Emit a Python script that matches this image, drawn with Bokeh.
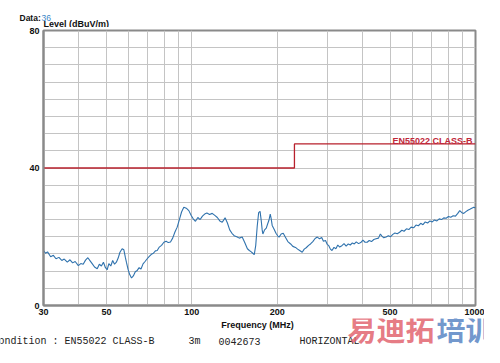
from bokeh.plotting import figure
from bokeh.models import Range1d, FixedTicker, Label
from bokeh.layouts import column
from bokeh.embed import file_html
from bokeh.resources import INLINE

# ---- data ----
freq_mhz = [30, 30.5, 31, 31.8, 32.5, 33.2, 34, 34.8, 35.5, 36.4, 37.2, 38, 38.8, 39.8,
            40.6, 41.4, 42.2, 43, 43.8, 44.6, 45.4, 46.4, 47.2, 48, 48.8, 49.6, 50.3, 51,
            51.8, 52.6, 53.4, 54.2, 55, 55.8, 56.8, 57.6, 58.3, 58.8, 59.6, 60.4, 61.3,
            62.2, 63.2, 64.2, 65.2, 66.2, 67.3, 68.4, 69.6, 70.8, 72, 73.2, 74.4, 75.5,
            76.8, 78.2, 79.7, 81.2, 82.6, 84.1, 85.6, 87.2, 88.8, 90.4, 92, 93.7, 95.6,
            97.6, 99.5, 101, 103, 105, 107, 109, 111, 113, 115.5, 118, 120.5, 123, 125.5,
            128, 131, 133.5, 136, 138.5, 141, 144, 147, 150.5, 153.5, 157, 159.5, 162,
            164, 166, 168, 170, 172, 174, 175.5, 177, 178, 180.5, 183, 185, 187, 189,
            190.5, 192, 195, 198, 201, 203, 206.5, 210, 214, 218, 223, 227, 232, 236,
            240, 245, 249, 253, 258, 262, 267, 272, 277, 282, 287, 291, 296, 300, 304,
            308, 312, 317, 322, 327, 332, 338, 344, 350, 356, 362, 368, 374, 380, 387,
            394, 401, 408, 415, 422, 430, 438, 446, 455, 462, 468, 475, 484, 493, 502,
            511, 520, 530, 540, 550, 560, 571, 582, 593, 605, 617, 629, 641, 653, 665,
            678, 691, 704, 717, 731, 745, 759, 773, 788, 803, 818, 834, 850, 866, 880,
            895, 909, 925, 940, 955, 970, 986, 1000]
level_dbuv = [16.0, 15.2, 15.6, 14.2, 14.6, 13.6, 14.0, 13.1, 13.5, 12.6, 13.3, 12.4, 12.8, 11.6,
              12.2, 12.0, 13.2, 13.9, 13.0, 12.1, 11.2, 10.7, 12.0, 11.5, 12.6, 11.0, 10.4, 12.2,
              11.5, 13.1, 12.0, 12.6, 13.8, 15.5, 16.5, 16.2, 14.0, 12.6, 10.5, 9.0, 8.0,
              8.6, 9.8, 10.2, 11.0, 10.6, 12.1, 12.8, 13.6, 14.3, 14.9, 15.2, 15.9, 16.0,
              17.0, 17.5, 18.4, 18.7, 18.3, 18.5, 19.6, 21.4, 22.8, 25.0, 27.2, 28.6, 28.3,
              27.6, 26.2, 25.3, 24.5, 25.6, 25.0, 26.0, 26.6, 26.9, 26.5, 26.8, 26.2, 25.6, 24.6,
              24.2, 25.5, 24.0, 22.0, 21.0, 20.3, 20.0, 19.6, 19.9, 18.4, 16.5, 16.0, 15.6,
              15.2, 14.8, 17.5, 23.0, 27.0, 27.4, 25.0, 22.0, 20.8, 22.0, 22.5, 23.7, 24.8, 26.6,
              25.2, 23.3, 22.2, 21.0, 20.2, 19.9, 20.8, 21.0, 19.8, 18.6, 17.9, 17.2, 16.9, 16.4,
              16.0, 15.5, 16.4, 16.8, 17.5, 17.9, 18.6, 19.5, 19.9, 19.4, 19.8, 18.7, 18.9, 17.8, 17.4,
              16.4, 16.0, 16.9, 16.5, 17.6, 17.0, 17.4, 18.0, 17.3, 17.9, 17.6, 18.2, 17.9, 18.5, 18.0,
              18.3, 19.0, 18.4, 18.4, 18.9, 18.6, 19.2, 19.4, 19.6, 20.8, 20.2, 19.7, 19.9, 20.3, 20.0,
              20.7, 21.1, 20.9, 21.3, 21.9, 21.6, 22.3, 22.1, 22.8, 22.6, 23.4, 23.2, 23.9, 23.5, 24.3,
              24.0, 24.6, 24.3, 24.9, 24.6, 25.2, 25.0, 25.5, 25.4, 25.9, 25.7, 26.1, 26.0, 26.8, 27.6,
              27.0, 26.8, 27.3, 27.7, 28.0, 28.3, 28.6, 28.4]

limit_freq = [30, 230, 230, 1000]
limit_level = [40, 40, 47, 47]
limit_name = "EN55022 CLASS-B"

x_ticks = [30, 50, 100, 200, 500, 1000]
x_minor = [40, 60, 70, 80, 90, 300, 400, 600, 700, 800, 900]
y_ticks = [0, 40, 80]
y_minor = [5, 10, 15, 20, 25, 30, 35, 45, 50, 55, 60, 65, 70, 75]

FONT = "Liberation Sans"
MONO = "Liberation Mono"
W = 484
TOP_H = 27
MAIN_H = 291
BOT_H = 29


def strip(h):
    f = figure(width=W, height=h, x_range=Range1d(0, W), y_range=Range1d(0, h),
               x_axis_location=None, y_axis_location=None,
               output_backend="svg", toolbar_location=None,
               min_border=0, min_border_left=0, min_border_right=0,
               min_border_top=0, min_border_bottom=0)
    f.grid.visible = False
    f.outline_line_color = None
    f.background_fill_color = "white"
    f.border_fill_color = "white"
    return f


def lab(fig, text, x, y, color="#111111", font=FONT, style="bold", size="9px",
        align="left", baseline="alphabetic", alpha=1.0):
    fig.add_layout(Label(x=x, y=y, text=text, text_color=color, text_font=font,
                         text_font_style=style, text_font_size=size,
                         text_align=align, text_baseline=baseline, text_alpha=alpha))


# ---- top strip: header texts ----
top = strip(TOP_H)
lab(top, "Data:", 19, 10, size="8.5px")
lab(top, "36", 41, 10, color="#3a86c8", style="normal", size="8.5px")
lab(top, "Level (dBuV/m)", 43, 4)

# ---- main chart ----
p = figure(width=W, height=MAIN_H, x_axis_type="log",
           x_range=Range1d(30, 1000), y_range=Range1d(0, 80),
           output_backend="svg", toolbar_location=None,
           min_border_left=43, min_border_right=9,
           min_border_top=3, min_border_bottom=13)
p.background_fill_color = "white"
p.border_fill_color = "white"
p.outline_line_color = "#8a8a8a"
p.outline_line_width = 2

for ax in (p.xaxis[0], p.yaxis[0]):
    ax.axis_line_color = "#8a8a8a"
    ax.axis_line_width = 2
    ax.major_tick_line_color = None
    ax.minor_tick_line_color = None
    ax.major_tick_out = 0
    ax.major_tick_in = 0
    ax.minor_tick_out = 0
    ax.minor_tick_in = 0
    ax.major_label_text_font = FONT
    ax.major_label_text_font_style = "bold"
    ax.major_label_text_font_size = "9px"
    ax.major_label_text_color = "#111111"

p.xaxis.ticker = FixedTicker(ticks=x_ticks, minor_ticks=x_minor)
p.xaxis.major_label_overrides = {t: str(t) for t in x_ticks}
p.xaxis.major_label_standoff = 3
p.yaxis.ticker = FixedTicker(ticks=y_ticks, minor_ticks=y_minor)
p.yaxis.major_label_overrides = {t: str(t) for t in y_ticks}
p.yaxis.major_label_standoff = 4

for g in (p.xgrid[0], p.ygrid[0]):
    g.grid_line_color = "#c4c4c4"
    g.minor_grid_line_color = "#c4c4c4"
    g.grid_line_width = 1
    g.minor_grid_line_width = 1
p.xgrid.ticker = FixedTicker(ticks=x_ticks, minor_ticks=x_minor)
p.ygrid.ticker = FixedTicker(ticks=y_ticks, minor_ticks=y_minor)

p.line(limit_freq, limit_level, line_color="#b8202c", line_width=1.3)
p.line(freq_mhz, level_dbuv, line_color="#2f72ad", line_width=1.1)
p.add_layout(Label(x=1000, y=47, x_offset=-3, y_offset=3, text=limit_name,
                   text_color="#c0283a", text_font=FONT, text_font_style="bold",
                   text_font_size="9px", text_align="right", text_baseline="alphabetic"))

# ---- bottom strip: axis title, test condition line, watermark ----
bot = strip(BOT_H)
lab(bot, "Frequency (MHz)", 257, 23, baseline="middle", align="center")
mono = dict(font=MONO, style="normal", size="10px", baseline="middle", color="#222222")
lab(bot, "Condition : EN55022 CLASS-B", -8, 6, **mono)
lab(bot, "3m", 188, 6, **mono)
lab(bot, "0042673", 218, 6, **mono)
lab(bot, "HORIZONTAL", 299, 6, **mono)
lab(bot, "易迪拓", 347, 19.5, color="#e2646f", font="Noto Sans CJK SC", size="29px",
    baseline="middle", alpha=0.85)
lab(bot, "培训", 436, 19.5, color="#5a86c4", font="Noto Sans CJK SC", size="29px",
    baseline="middle", alpha=0.85)

# strips are wrapped in their own columns so that their frames keep the full width
layout = column(column(top, width=W, height=TOP_H), p, column(bot, width=W, height=BOT_H),
                spacing=0)
open("out.html", "w").write(file_html(layout, INLINE))
